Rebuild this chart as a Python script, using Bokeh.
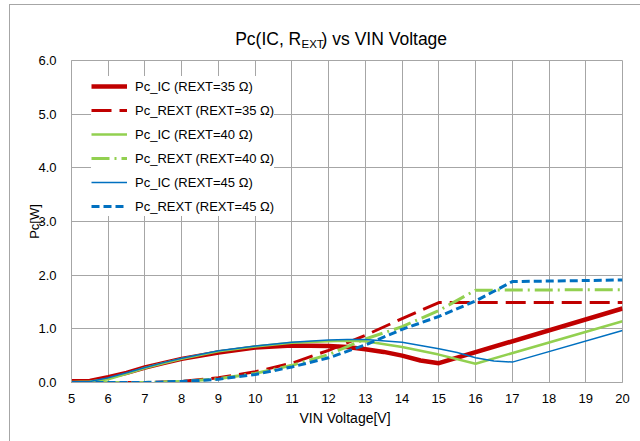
from bokeh.plotting import figure
from bokeh.layouts import column
from bokeh.models import Legend, LegendItem, SingleIntervalTicker, NumeralTickFormatter, Range1d
from bokeh.core.properties import value
from bokeh.embed import file_html
from bokeh.resources import INLINE

# ---- data ----
x_ic35 = [5, 5.5, 6, 6.5, 7, 7.5, 8, 9, 10, 11, 12, 12.5, 13, 13.5, 14, 14.5, 15, 20]
pc_ic35 = [0.025, 0.03, 0.10, 0.18, 0.28, 0.36, 0.44, 0.56, 0.65, 0.69, 0.68, 0.66, 0.62, 0.57, 0.50, 0.41, 0.36, 1.38]

x_rext35 = [5, 6, 7, 8, 9, 10, 11, 12, 13, 14, 15, 20]
pc_rext35 = [0.0, 0.0, 0.0, 0.02, 0.09, 0.20, 0.36, 0.60, 0.88, 1.19, 1.49, 1.49]

x_ic40 = [5, 5.5, 6, 6.5, 7, 7.5, 8, 9, 10, 11, 12, 12.5, 13, 14, 15, 16, 20]
pc_ic40 = [0.01, 0.02, 0.06, 0.16, 0.27, 0.36, 0.44, 0.58, 0.67, 0.74, 0.77, 0.78, 0.77, 0.66, 0.52, 0.35, 1.14]

x_rext40 = [5, 6, 7, 8, 9, 10, 11, 12, 13, 14, 15, 16, 20]
pc_rext40 = [0.0, 0.0, 0.0, 0.02, 0.07, 0.17, 0.32, 0.52, 0.81, 1.04, 1.34, 1.72, 1.73]

x_ic45 = [5, 5.5, 6, 6.5, 7, 7.5, 8, 9, 10, 11, 12, 12.5, 13, 14, 15, 15.5, 16, 16.5, 17, 20]
pc_ic45 = [0.01, 0.02, 0.09, 0.18, 0.28, 0.37, 0.45, 0.59, 0.68, 0.75, 0.79, 0.80, 0.80, 0.75, 0.63, 0.56, 0.46, 0.40, 0.38, 0.97]

x_rext45 = [5, 6, 7, 8, 9, 10, 11, 12, 13, 14, 15, 16, 17, 20]
pc_rext45 = [0.0, 0.0, 0.0, 0.02, 0.06, 0.15, 0.29, 0.46, 0.70, 0.99, 1.23, 1.52, 1.88, 1.91]

labels = ["Pc_IC (REXT=35 \u03a9)", "Pc_REXT (REXT=35 \u03a9)",
          "Pc_IC (REXT=40 \u03a9)", "Pc_REXT (REXT=40 \u03a9)",
          "Pc_IC (REXT=45 \u03a9)", "Pc_REXT (REXT=45 \u03a9)"]

title_main = "Pc(IC, R"
title_sub = "EXT"
title_rest = ") vs VIN Voltage"
x_title = "VIN  Voltage[V]"
y_title = "Pc[W]"

X0, X1, Y0, Y1 = 5, 20, 0, 6

FONT = "Liberation Sans"
RED = "#C00000"
GREEN = "#92D050"
BLUE = "#0070C0"
GRID = "#a6a6a6"

W = 630
TH = 45            # title strip height
H = 436 - TH       # main figure height
ML, MT = 61, 10
FW, FH = 551, 322
MR, MB = W - ML - FW, H - MT - FH
PAGE_X0, PAGE_Y0 = 10, 5  # layout origin on the page

# ---- title strip (its own svg figure, pixel coordinates, y downward) ----
tf = figure(width=W, height=TH, x_range=Range1d(0, W), y_range=Range1d(TH, 0),
            output_backend="svg", toolbar_location=None,
            x_axis_location=None, y_axis_location=None,
            min_border_left=0, min_border_right=0, min_border_top=0, min_border_bottom=0)
tf.grid.visible = False
tf.outline_line_color = None
tf.background_fill_color = "white"
tf.border_fill_color = "white"

main_size, sub_size = 17.5, 11.5
w_sub = 1.945 * sub_size
anchor = 273.0 - PAGE_X0          # where the subscript starts
base_main = 38 - PAGE_Y0
base_sub = 43 - PAGE_Y0
tstyle = dict(text_font=value(FONT), text_baseline="alphabetic", text_color="#000000")
tf.text(x=[anchor - 0.3], y=[base_main], text=[title_main], text_align="right",
        text_font_size=f"{main_size}px", **tstyle)
tf.text(x=[anchor], y=[base_sub], text=[title_sub], text_align="left",
        text_font_size=f"{sub_size}px", **tstyle)
tf.text(x=[anchor + w_sub + 0.6], y=[base_main], text=[title_rest], text_align="left",
        text_font_size=f"{main_size}px", **tstyle)

# ---- main chart ----
p = figure(width=W, height=H, x_range=(X0, X1), y_range=(Y0, Y1),
           output_backend="svg", toolbar_location=None,
           min_border_left=ML, min_border_right=MR, min_border_top=MT, min_border_bottom=MB)

p.background_fill_color = "white"
p.border_fill_color = "white"
p.outline_line_color = GRID

p.xaxis.ticker = SingleIntervalTicker(interval=1)
p.yaxis.ticker = SingleIntervalTicker(interval=1)
p.yaxis.formatter = NumeralTickFormatter(format="0.0")
for ax in (p.xaxis[0], p.yaxis[0]):
    ax.axis_line_color = GRID
    ax.major_tick_line_color = None
    ax.minor_tick_line_color = None
    ax.major_tick_out = 0
    ax.major_tick_in = 0
    ax.major_label_text_font = FONT
    ax.major_label_text_font_size = "13px"
    ax.major_label_text_color = "#000000"
    ax.axis_label_text_font = FONT
    ax.axis_label_text_font_size = "13px"
    ax.axis_label_text_font_style = "normal"
    ax.axis_label_text_color = "#000000"
p.xaxis.axis_label = x_title
p.yaxis.axis_label = y_title
p.xaxis.axis_label_text_font_size = "14px"
p.xaxis.major_label_standoff = 7
p.yaxis.major_label_standoff = 11
p.xaxis.axis_label_standoff = 4
p.yaxis.axis_label_standoff = -7

p.xgrid.grid_line_color = GRID
p.ygrid.grid_line_color = GRID
p.xgrid.grid_line_width = 1
p.ygrid.grid_line_width = 1

r1 = p.line(x_ic35, pc_ic35, line_color=RED, line_width=4.5)
r2 = p.line(x_rext35, pc_rext35, line_color=RED, line_width=3, line_dash="20 8")
r3 = p.line(x_ic40, pc_ic40, line_color=GREEN, line_width=2.5)
r4 = p.line(x_rext40, pc_rext40, line_color=GREEN, line_width=3, line_dash="18 5 2 5")
r5 = p.line(x_ic45, pc_ic45, line_color=BLUE, line_width=1.5)
r6 = p.line(x_rext45, pc_rext45, line_color=BLUE, line_width=3, line_dash="8 4")

items = [LegendItem(label=l, renderers=[r]) for l, r in zip(labels, [r1, r2, r3, r4, r5, r6])]
legend = Legend(items=items, location=(20, 166), orientation="vertical")
legend.background_fill_color = "white"
legend.background_fill_alpha = 1.0
legend.border_line_color = None
legend.padding = 6
legend.margin = 0
legend.spacing = 4
legend.glyph_width = 36
legend.glyph_height = 20
legend.label_height = 20
legend.label_standoff = 8
legend.label_text_font = FONT
legend.label_text_font_size = "13px"
legend.label_text_color = "#000000"
p.add_layout(legend, "center")

layout = column(tf, p, spacing=0)
layout.styles = {"border-top": "1px solid #a6a6a6", "border-left": "1px solid #a6a6a6",
                 "margin-top": "4px", "margin-left": "9px"}

open("out.html", "w").write(file_html(layout, INLINE))
